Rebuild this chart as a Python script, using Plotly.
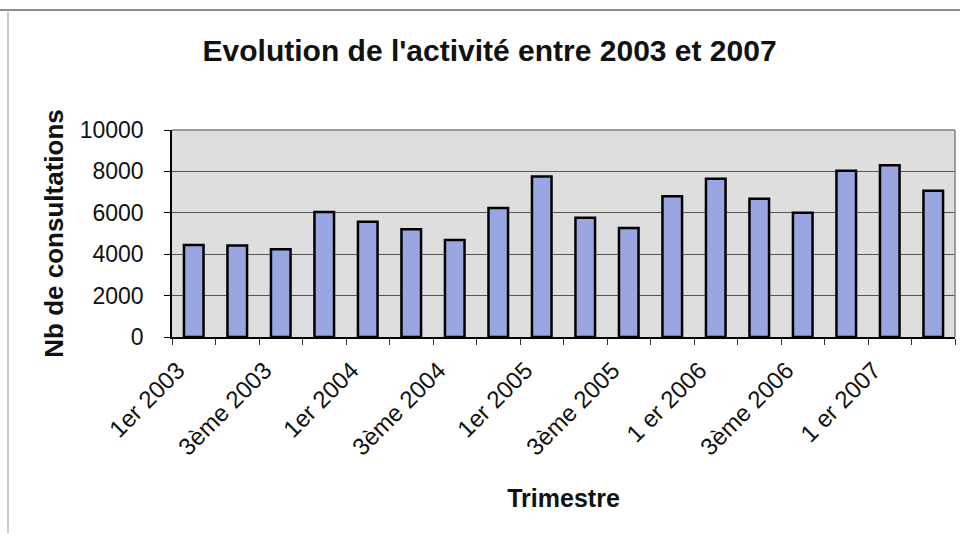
import plotly.graph_objects as go

# Quarterly consultations, 2003 Q1 to 2007 Q2
quarters = [
    "1er 2003", "2ème 2003", "3ème 2003", "4ème 2003",
    "1er 2004", "2ème 2004", "3ème 2004", "4ème 2004",
    "1er 2005", "2ème 2005", "3ème 2005", "4ème 2005",
    "1 er 2006", "2ème 2006", "3ème 2006", "4ème 2006",
    "1 er 2007", "2ème 2007",
]
consultations = [
    4450, 4420, 4240, 6040,
    5570, 5210, 4690, 6230,
    7750, 5760, 5260, 6800,
    7650, 6680, 6000, 8030,
    8300, 7070,
]
# Only every other quarter carries a label on the axis
tick_labels = [q if i % 2 == 0 else "" for i, q in enumerate(quarters)]
y_ticks = [0, 2000, 4000, 6000, 8000, 10000]
y_tick_labels = [str(v) for v in y_ticks]

fig = go.Figure()
fig.add_trace(go.Bar(
    x=quarters,
    y=consultations,
    width=0.45,
    marker=dict(color="#99a6e2", line=dict(color="#000000", width=2.5)),
    showlegend=False,
))

fig.update_layout(
    width=960,
    height=539,
    margin=dict(l=172, r=5, t=130, b=202),
    paper_bgcolor="white",
    plot_bgcolor="#dedede",
    font=dict(family="Liberation Sans, Arial, sans-serif", color="#111111"),
    title=dict(
        text="<b>Evolution de l'activité entre 2003 et 2007</b>",
        x=0.51, xanchor="center", y=0.907, yanchor="middle",
        font=dict(size=30, family="Liberation Sans, Arial, sans-serif"),
    ),
    bargap=0.55,
)

fig.update_xaxes(
    type="category",
    tickvals=quarters,
    ticktext=tick_labels,
    tickangle=-45,
    tickson="boundaries",
    ticks="outside",
    ticklen=6,
    tickcolor="#333333",
    tickfont=dict(size=24),
    ticklabelstandoff=8,
    ticklabelshift=-16,
    showline=True,
    linecolor="#000000",
    linewidth=1.5,
    showgrid=False,
    mirror=False,
    title=dict(text="<b>Trimestre</b>", font=dict(size=25), standoff=30),
)

fig.update_yaxes(
    range=[0, 10000],
    tickvals=y_ticks,
    ticktext=y_tick_labels,
    ticks="outside",
    ticklen=6,
    tickcolor="#000000",
    tickfont=dict(size=23),
    ticklabelstandoff=16,
    showline=True,
    linecolor="#000000",
    linewidth=1.5,
    showgrid=True,
    gridcolor="#555555",
    gridwidth=1,
    zeroline=False,
    title=dict(text="<b>Nb de consultations</b>", font=dict(size=26), standoff=9),
)

# Grey border on the top and right of the plotting area
fig.add_shape(type="line", xref="paper", yref="paper", x0=0, x1=1, y0=1, y1=1,
              line=dict(color="#808080", width=1.5))
fig.add_shape(type="line", xref="paper", yref="paper", x0=1, x1=1, y0=0, y1=1,
              line=dict(color="#808080", width=1.5))

# Outer chart frame
fig.add_shape(type="line", xref="paper", yref="paper",
              x0=-172 / 783, x1=1 + 5 / 783, y0=1 + 120 / 207, y1=1 + 120 / 207,
              line=dict(color="#8a8f8a", width=2))
fig.add_shape(type="line", xref="paper", yref="paper",
              x0=-164 / 783, x1=-164 / 783, y0=1 + 118 / 207, y1=-196 / 207,
              line=dict(color="#c8c8c8", width=2))

fig.write_html("out.html")
